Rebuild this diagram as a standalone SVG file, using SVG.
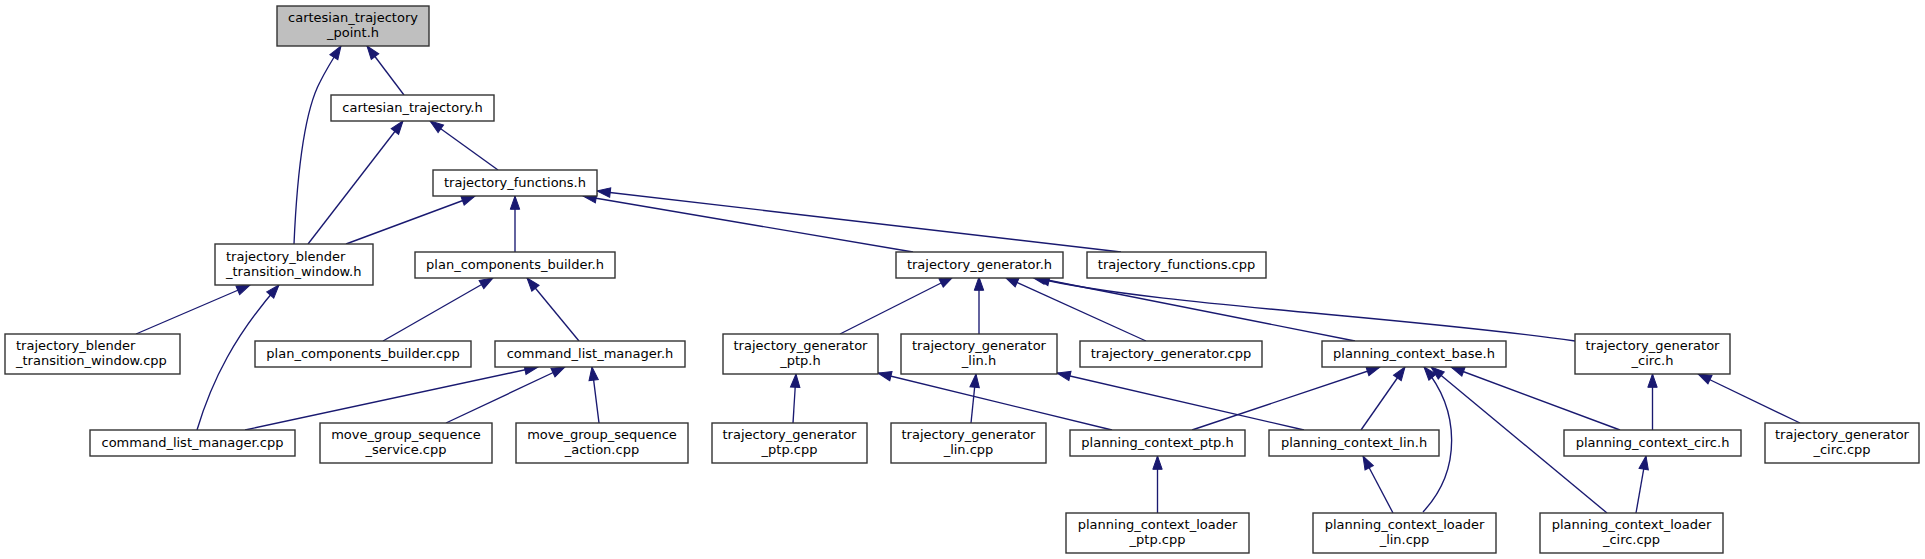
<svg xmlns="http://www.w3.org/2000/svg" width="1925" height="559" viewBox="0 0 1925 559">
<defs>
<style>
.n rect{fill:#ffffff;stroke:#333333;stroke-width:1.4}
.n.root rect{fill:#bfbfbf}
.n text{font-family:"DejaVu Sans",Verdana,sans-serif;font-size:13px;fill:#000000;text-anchor:middle}
.n text.l{text-anchor:start}
#edges path{fill:none;stroke:#191970;stroke-width:1.35;marker-end:url(#ah)}
</style>
<marker id="ah" markerUnits="userSpaceOnUse" markerWidth="14" markerHeight="10" refX="13.3" refY="4.7" orient="auto" overflow="visible">
<path d="M0,0 L13.3,4.7 L0,9.4 z" fill="#191970" stroke="#191970" stroke-width="1"/>
</marker>
</defs>
<rect width="1925" height="559" fill="#ffffff"/>
<g id="edges">
<path d="M294,244 C297,175 304,112 320,82 C327,68 334,57 341,46"/>
<path d="M404,95 L367,46"/>
<path d="M308,244 L403,121"/>
<path d="M498,170 L430,121"/>
<path d="M346,244 L475,196"/>
<path d="M515,252 L515,196"/>
<path d="M913,252 L583,196"/>
<path d="M1121,252 L597,191"/>
<path d="M136,334 L250,285"/>
<path d="M197,430 C212,380 235,335 279,285"/>
<path d="M383,341 L493,278"/>
<path d="M579,341 L527,278"/>
<path d="M245,430 L538,367"/>
<path d="M446,423 L565,367"/>
<path d="M599,423 L592,367"/>
<path d="M840,334 L953,277"/>
<path d="M979,334 L979,277"/>
<path d="M1146,341 L1005,277"/>
<path d="M1355,341 L1032,277"/>
<path d="M1575,341 C1400,316 1150,305 1036,278"/>
<path d="M793,423 L796,374"/>
<path d="M1112,430 L878,373"/>
<path d="M971,423 L976,374"/>
<path d="M1304,430 L1057,373"/>
<path d="M1192,430 L1380,367"/>
<path d="M1361,430 L1405,367"/>
<path d="M1423,512 C1462,470 1460,410 1424,367"/>
<path d="M1607,513 L1431,367"/>
<path d="M1620,430 L1451,367"/>
<path d="M1652.5,430 L1652.5,374"/>
<path d="M1800,423 L1698,374"/>
<path d="M1157.5,513 L1157.5,456"/>
<path d="M1393,513 L1363,456"/>
<path d="M1636,513 L1646,456"/>
</g>
<g id="cartesian_trajectory_point_h" class="n root"><rect x="277" y="6" width="152" height="40"/><text x="353" y="22">cartesian_trajectory</text><text x="353" y="37">_point.h</text></g>
<g id="cartesian_trajectory_h" class="n"><rect x="331" y="95" width="163" height="26"/><text x="412.5" y="112">cartesian_trajectory.h</text></g>
<g id="trajectory_functions_h" class="n"><rect x="433" y="170" width="164" height="26"/><text x="515" y="187">trajectory_functions.h</text></g>
<g id="trajectory_blender_transition_window_h" class="n"><rect x="215" y="244" width="158" height="41"/><text class="l" x="226" y="261">trajectory_blender</text><text class="l" x="226" y="276">_transition_window.h</text></g>
<g id="plan_components_builder_h" class="n"><rect x="415" y="252" width="200" height="26"/><text x="515" y="269">plan_components_builder.h</text></g>
<g id="trajectory_generator_h" class="n"><rect x="896" y="252" width="167" height="26"/><text x="979.5" y="269">trajectory_generator.h</text></g>
<g id="trajectory_functions_cpp" class="n"><rect x="1087" y="252" width="179" height="26"/><text x="1176.5" y="269">trajectory_functions.cpp</text></g>
<g id="trajectory_blender_transition_window_cpp" class="n"><rect x="5" y="334" width="175" height="40"/><text class="l" x="16" y="350">trajectory_blender</text><text class="l" x="16" y="365">_transition_window.cpp</text></g>
<g id="plan_components_builder_cpp" class="n"><rect x="255" y="341" width="216" height="26"/><text x="363" y="358">plan_components_builder.cpp</text></g>
<g id="command_list_manager_h" class="n"><rect x="495" y="341" width="190" height="26"/><text x="590" y="358">command_list_manager.h</text></g>
<g id="trajectory_generator_ptp_h" class="n"><rect x="723" y="334" width="155" height="40"/><text x="800.5" y="350">trajectory_generator</text><text x="800.5" y="365">_ptp.h</text></g>
<g id="trajectory_generator_lin_h" class="n"><rect x="901" y="334" width="156" height="40"/><text x="979" y="350">trajectory_generator</text><text x="979" y="365">_lin.h</text></g>
<g id="trajectory_generator_cpp" class="n"><rect x="1080" y="341" width="182" height="26"/><text x="1171" y="358">trajectory_generator.cpp</text></g>
<g id="planning_context_base_h" class="n"><rect x="1322" y="341" width="184" height="26"/><text x="1414" y="358">planning_context_base.h</text></g>
<g id="trajectory_generator_circ_h" class="n"><rect x="1575" y="334" width="155" height="40"/><text x="1652.5" y="350">trajectory_generator</text><text x="1652.5" y="365">_circ.h</text></g>
<g id="command_list_manager_cpp" class="n"><rect x="90" y="430" width="205" height="26"/><text x="192.5" y="447">command_list_manager.cpp</text></g>
<g id="move_group_sequence_service_cpp" class="n"><rect x="320" y="423" width="172" height="40"/><text x="406" y="439">move_group_sequence</text><text x="406" y="454">_service.cpp</text></g>
<g id="move_group_sequence_action_cpp" class="n"><rect x="516" y="423" width="172" height="40"/><text x="602" y="439">move_group_sequence</text><text x="602" y="454">_action.cpp</text></g>
<g id="trajectory_generator_ptp_cpp" class="n"><rect x="712" y="423" width="155" height="40"/><text x="789.5" y="439">trajectory_generator</text><text x="789.5" y="454">_ptp.cpp</text></g>
<g id="trajectory_generator_lin_cpp" class="n"><rect x="891" y="423" width="155" height="40"/><text x="968.5" y="439">trajectory_generator</text><text x="968.5" y="454">_lin.cpp</text></g>
<g id="planning_context_ptp_h" class="n"><rect x="1070" y="430" width="175" height="26"/><text x="1157.5" y="447">planning_context_ptp.h</text></g>
<g id="planning_context_lin_h" class="n"><rect x="1269" y="430" width="170" height="26"/><text x="1354" y="447">planning_context_lin.h</text></g>
<g id="planning_context_circ_h" class="n"><rect x="1564" y="430" width="177" height="26"/><text x="1652.5" y="447">planning_context_circ.h</text></g>
<g id="trajectory_generator_circ_cpp" class="n"><rect x="1765" y="423" width="154" height="40"/><text x="1842" y="439">trajectory_generator</text><text x="1842" y="454">_circ.cpp</text></g>
<g id="planning_context_loader_ptp_cpp" class="n"><rect x="1066" y="513" width="183" height="40"/><text x="1157.5" y="529">planning_context_loader</text><text x="1157.5" y="544">_ptp.cpp</text></g>
<g id="planning_context_loader_lin_cpp" class="n"><rect x="1313" y="513" width="183" height="40"/><text x="1404.5" y="529">planning_context_loader</text><text x="1404.5" y="544">_lin.cpp</text></g>
<g id="planning_context_loader_circ_cpp" class="n"><rect x="1540" y="513" width="183" height="40"/><text x="1631.5" y="529">planning_context_loader</text><text x="1631.5" y="544">_circ.cpp</text></g>
</svg>
